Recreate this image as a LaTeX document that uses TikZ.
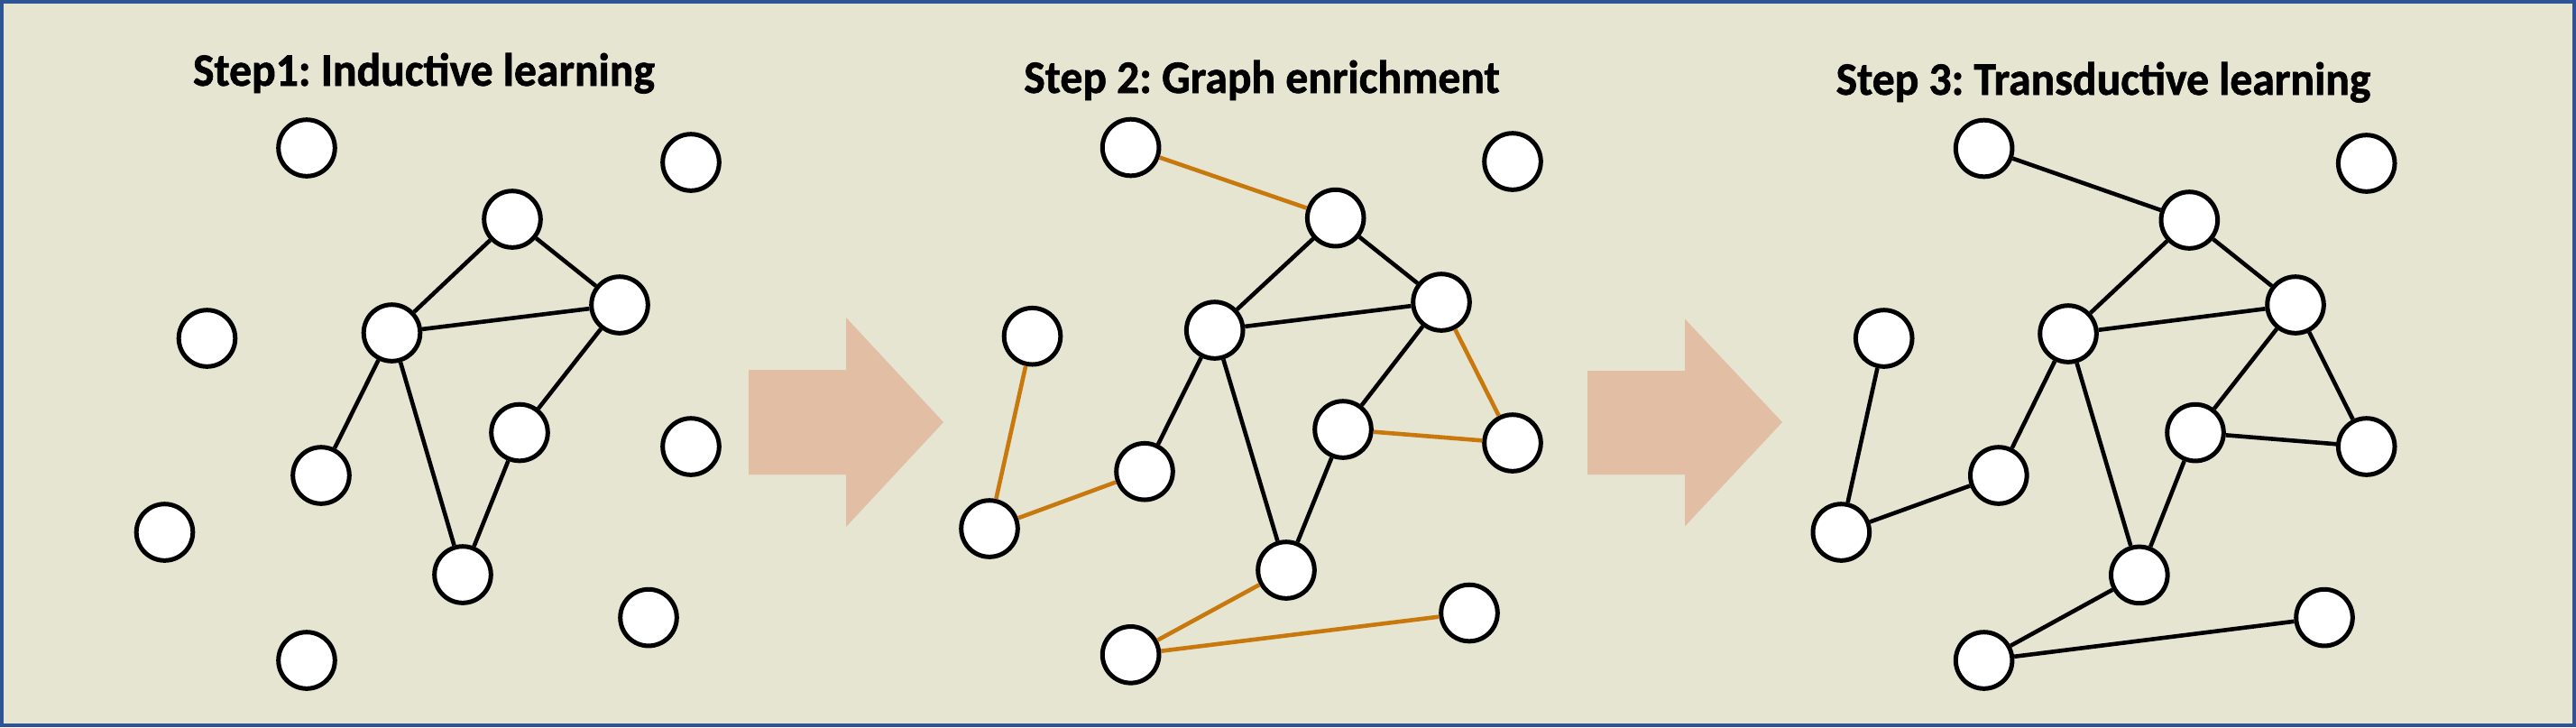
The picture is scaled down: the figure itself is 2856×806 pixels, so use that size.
\documentclass[tikz,border=0pt]{standalone}
\usepackage{fontspec}
\setmainfont{Carlito}[BoldFeatures={FakeBold=1.3}]
\frenchspacing
\definecolor{bgcol}{RGB}{230,229,210}
\definecolor{framecol}{RGB}{46,84,150}
\definecolor{arrowcol}{RGB}{226,190,165}
\definecolor{newedge}{RGB}{200,121,14}
\tikzset{
  gnode/.style={circle, draw=black, fill=white, line width=1.25pt, minimum size=15.65pt, inner sep=0pt},
  edge/.style={draw=black, line width=1.15pt},
  newlink/.style={draw=newedge, line width=1.15pt},
  steptitle/.style={anchor=base, inner sep=0pt, font=\bfseries\fontsize{12.4pt}{14pt}\selectfont},
  bigarrow/.style={fill=arrowcol, draw=none}
}
\begin{document}
\begin{tikzpicture}[x=0.25pt, y=-0.25pt]
\useasboundingbox (0,0) rectangle (2856,806);
\fill[bgcol] (0,0) rectangle (2856,806);
\draw[framecol, line width=1pt] (2,2) rectangle (2854,804);

% titles
\node[steptitle] (t1) at (470,95) {\scalebox{1}[1.04]{Step1: Inductive learning}};
\node[steptitle] (t2) at (1399,103) {\scalebox{1}[1.04]{Step 2: Graph enrichment}};
\node[steptitle] (t3) at (2332,105) {\scalebox{1}[1.04]{Step 3: Transductive learning}};

% big arrows
\fill[bigarrow] (830,410) -- (938,410) -- (938,352) -- (1046,468) -- (938,584) -- (938,526) -- (830,526) -- cycle;
\fill[bigarrow] (1760,411) -- (1868,411) -- (1868,353.6) -- (1976,468) -- (1868,583.4) -- (1868,526) -- (1760,526) -- cycle;

% panel 1
\begin{scope}[name prefix=p1-]
\node[gnode] (A) at (340,164) {};
\node[gnode] (B) at (766,180) {};
\node[gnode] (C) at (568,243) {};
\node[gnode] (D) at (687,338) {};
\node[gnode] (E) at (434.5,369) {};
\node[gnode] (F) at (229.5,375) {};
\node[gnode] (G) at (576,479.5) {};
\node[gnode] (H) at (766,495) {};
\node[gnode] (I) at (356,527) {};
\node[gnode] (J) at (182.5,590) {};
\node[gnode] (K) at (513,637) {};
\node[gnode] (L) at (719,684.6) {};
\node[gnode] (M) at (340,732) {};
\end{scope}
\draw[edge] (p1-C) -- (p1-E);
\draw[edge] (p1-C) -- (p1-D);
\draw[edge] (p1-E) -- (p1-D);
\draw[edge] (p1-E) -- (p1-I);
\draw[edge] (p1-E) -- (p1-K);
\draw[edge] (p1-D) -- (p1-G);
\draw[edge] (p1-G) -- (p1-K);

% panel 2
\begin{scope}[name prefix=p2-]
\node[gnode] (A) at (1253.6,163.5) {};
\node[gnode] (B) at (1677,179) {};
\node[gnode] (C) at (1480.7,241.6) {};
\node[gnode] (D) at (1598,335) {};
\node[gnode] (E) at (1346.7,366) {};
\node[gnode] (F) at (1144.5,372.7) {};
\node[gnode] (G) at (1489,476) {};
\node[gnode] (H) at (1677,491) {};
\node[gnode] (I) at (1269,522.7) {};
\node[gnode] (J) at (1097,586) {};
\node[gnode] (K) at (1426,632) {};
\node[gnode] (L) at (1629,679.5) {};
\node[gnode] (M) at (1253.6,725.8) {};
\end{scope}
\draw[edge] (p2-C) -- (p2-E);
\draw[edge] (p2-C) -- (p2-D);
\draw[edge] (p2-E) -- (p2-D);
\draw[edge] (p2-E) -- (p2-I);
\draw[edge] (p2-E) -- (p2-K);
\draw[edge] (p2-D) -- (p2-G);
\draw[edge] (p2-G) -- (p2-K);
\draw[newlink] (p2-A) -- (p2-C);
\draw[newlink] (p2-F) -- (p2-J);
\draw[newlink] (p2-J) -- (p2-I);
\draw[newlink] (p2-D) -- (p2-H);
\draw[newlink] (p2-G) -- (p2-H);
\draw[newlink] (p2-K) -- (p2-M);
\draw[newlink] (p2-M) -- (p2-L);

% panel 3
\begin{scope}[name prefix=p3-]
\node[gnode] (A) at (2199.6,164.5) {};
\node[gnode] (B) at (2623.7,181) {};
\node[gnode] (C) at (2427.3,244) {};
\node[gnode] (D) at (2545,338) {};
\node[gnode] (E) at (2293,370) {};
\node[gnode] (F) at (2088.7,375) {};
\node[gnode] (G) at (2434,479.6) {};
\node[gnode] (H) at (2623.7,495) {};
\node[gnode] (I) at (2215.8,527) {};
\node[gnode] (J) at (2041.3,590) {};
\node[gnode] (K) at (2371.8,637.4) {};
\node[gnode] (L) at (2577,684.6) {};
\node[gnode] (M) at (2199.6,732) {};
\end{scope}
\draw[edge] (p3-C) -- (p3-E);
\draw[edge] (p3-C) -- (p3-D);
\draw[edge] (p3-E) -- (p3-D);
\draw[edge] (p3-E) -- (p3-I);
\draw[edge] (p3-E) -- (p3-K);
\draw[edge] (p3-D) -- (p3-G);
\draw[edge] (p3-G) -- (p3-K);
\draw[edge] (p3-A) -- (p3-C);
\draw[edge] (p3-F) -- (p3-J);
\draw[edge] (p3-J) -- (p3-I);
\draw[edge] (p3-D) -- (p3-H);
\draw[edge] (p3-G) -- (p3-H);
\draw[edge] (p3-K) -- (p3-M);
\draw[edge] (p3-M) -- (p3-L);
\end{tikzpicture}
\end{document}
